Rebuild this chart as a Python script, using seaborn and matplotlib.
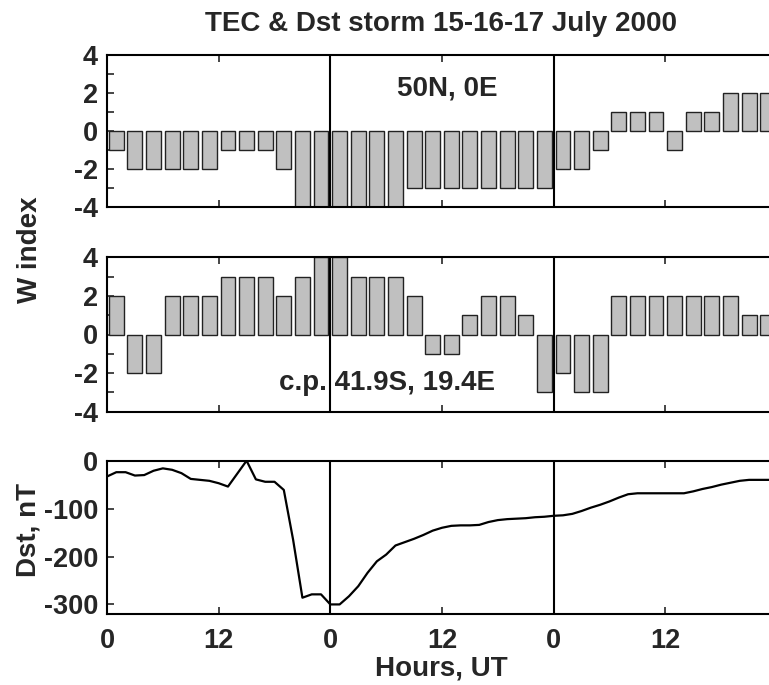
import numpy as np
import matplotlib
matplotlib.use("Agg")
import matplotlib.pyplot as plt
import seaborn as sns
from matplotlib.ticker import FixedLocator

# W index, 2-hour bins over three days (36 bins)
w_50n = [-1, -2, -2, -2, -2, -2, -1, -1, -1, -2, -4, -4,
         -4, -4, -4, -4, -3, -3, -3, -3, -3, -3, -3, -3,
         -2, -2, -1, 1, 1, 1, -1, 1, 1, 2, 2, 2]
w_cp = [2, -2, -2, 2, 2, 2, 3, 3, 3, 2, 3, 4,
        4, 3, 3, 3, 2, -1, -1, 1, 2, 2, 1, -3,
        -2, -3, -3, 2, 2, 2, 2, 2, 2, 2, 1, 1]
bar_hours = [2 * k + 1 for k in range(36)]

# hourly Dst, nT
dst = [-33, -24, -24, -31, -30, -21, -16, -19, -26, -38, -40, -42,
       -47, -54, -27, 0, -39, -44, -44, -61, -165, -286, -279, -279,
       -300, -300, -283, -262, -234, -210, -196, -177, -170, -163, -155, -146,
       -140, -136, -135, -135, -134, -128, -124, -122, -121, -120, -118, -117,
       -115, -114, -111, -105, -98, -92, -85, -77, -70, -68, -68, -68,
       -68, -68, -68, -64, -59, -55, -50, -46, -42, -40, -40, -40, -40]
dst_hours = list(range(len(dst)))

xtick_pos = [0, 12, 24, 36, 48, 60]
xtick_lab = ["0", "12", "0", "12", "0", "12"]

sns.set_style("ticks")
plt.rcParams["font.family"] = ["Liberation Sans", "DejaVu Sans"]
plt.rcParams["font.weight"] = "bold"
plt.rcParams["axes.unicode_minus"] = False

FS = 19.5
FS_TXT = 20
W, H = 769, 685
fig = plt.figure(figsize=(W / 100, H / 100), dpi=100)
left, width = 107 / W, 670 / W
ax1 = fig.add_axes([left, 1 - 206.7 / H, width, 152.0 / H])
ax2 = fig.add_axes([left, 1 - 411.7 / H, width, 154.4 / H])
ax3 = fig.add_axes([left, 1 - 614.0 / H, width, 153.3 / H])

for ax, vals in ((ax1, w_50n), (ax2, w_cp)):
    sns.barplot(x=bar_hours, y=vals, native_scale=True, color="#c0c0c0",
                saturation=1, edgecolor="#222222", linewidth=1.0, width=0.8,
                errorbar=None, ax=ax)
    ax.set_ylim(-4, 4)
    ax.yaxis.set_major_locator(FixedLocator([-4, -2, 0, 2, 4]))
    ax.yaxis.set_minor_locator(FixedLocator([-3, -1, 1, 3]))
    ax.set_yticklabels(["-4", "-2", "0", "2", "4"])

sns.lineplot(x=dst_hours, y=dst, color="black", linewidth=1.6, ax=ax3)
ax3.set_ylim(-320, 0)
ax3.yaxis.set_major_locator(FixedLocator([-300, -200, -100, 0]))
ax3.set_yticklabels(["-300", "-200", "-100", "0"])

for ax in (ax1, ax2, ax3):
    ax.set_xlim(0, 72)
    ax.xaxis.set_major_locator(FixedLocator(xtick_pos))
    ax.set_xticklabels(xtick_lab if ax is ax3 else [""] * len(xtick_pos))
    for day in (24, 48):
        ax.axvline(day, color="black", lw=1.5, zorder=3)
    ax.tick_params(axis="both", which="both", direction="in", length=5,
                   width=1.2, top=True, right=False, labelsize=FS)
    ax.tick_params(axis="y", pad=6.5)
    ax.tick_params(axis="x", pad=10)
    for sp in ax.spines.values():
        sp.set_linewidth(1.5)
        sp.set_color("black")
    ax.set_xlabel("")
    ax.set_ylabel("")
    for lab in ax.get_xticklabels() + ax.get_yticklabels():
        lab.set_fontweight("bold")

ax1.text(42.0, 2.2, "50N, 0E", ha="right", va="center", fontsize=FS_TXT,
         fontweight="bold")
ax2.text(41.7, -2.5, "c.p. 41.9S, 19.4E", ha="right", va="center",
         fontsize=FS_TXT, fontweight="bold")

fig.text(441 / W, 1 - 24 / H, "TEC & Dst storm 15-16-17 July 2000",
         ha="center", va="center", fontsize=FS_TXT, fontweight="bold")
fig.text(441 / W, 1 - 668 / H, "Hours, UT", ha="center", va="center",
         fontsize=FS_TXT, fontweight="bold")
fig.text(30 / W, 1 - 250 / H, "W index", ha="center", va="center",
         rotation=90, fontsize=FS_TXT, fontweight="bold")
fig.text(28 / W, 1 - 530 / H, "Dst, nT", ha="center", va="center",
         rotation=90, fontsize=FS_TXT, fontweight="bold")

fig.savefig("out.png", dpi=100)
